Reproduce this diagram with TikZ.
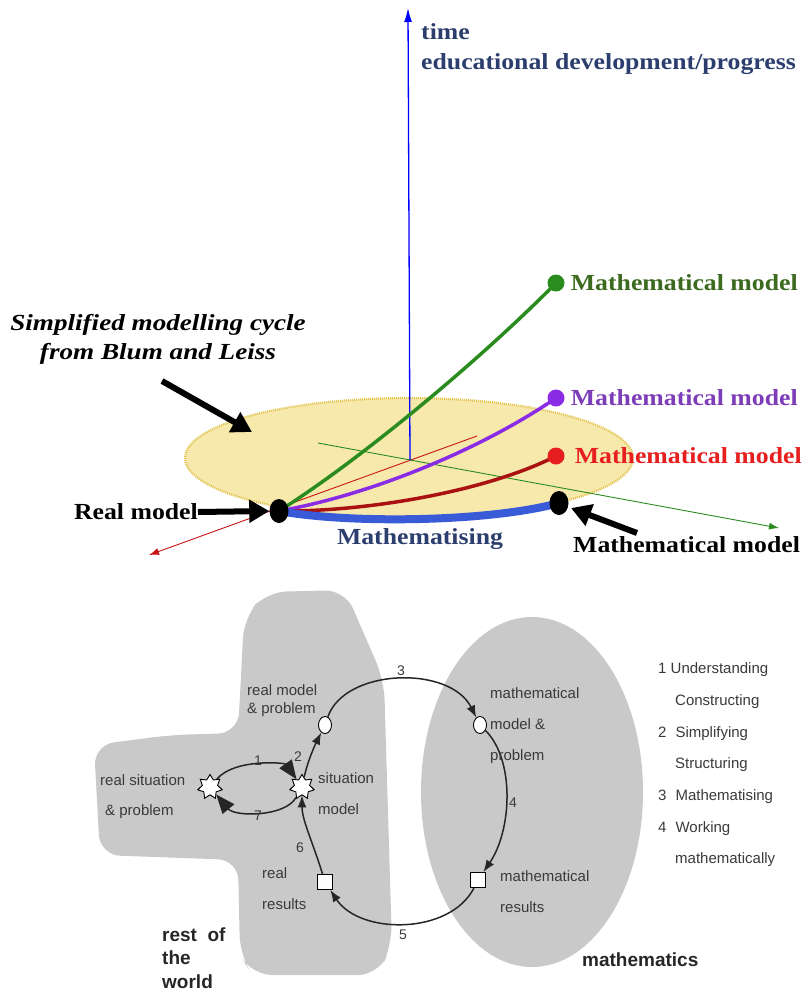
\documentclass[tikz,border=0pt]{standalone}
\usepackage{fontspec}
\setmainfont{Liberation Serif}
\setsansfont{Liberation Sans}
\newfontfamily\wideserif[FakeStretch=1.12]{Liberation Serif}
\newfontfamily\wideital[FakeStretch=1.18]{Liberation Serif}
\usetikzlibrary{arrows.meta,shapes.geometric,positioning}

\definecolor{discfill}{HTML}{F7E8AC}
\definecolor{discrim}{HTML}{E2C44E}
\definecolor{navy}{HTML}{2C3E6E}
\definecolor{mgreen}{HTML}{2A8C1E}
\definecolor{tgreen}{HTML}{3C6A1E}
\definecolor{mpurple}{HTML}{8A2BE6}
\definecolor{tpurple}{HTML}{7D3CB8}
\definecolor{mred}{HTML}{C81414}
\definecolor{tred}{HTML}{E61E1E}
\definecolor{arcblue}{HTML}{3A5BD8}
\definecolor{blobgray}{HTML}{C9C9C9}
\definecolor{inkgray}{HTML}{3A3A3A}

\tikzset{
  toplab/.style={font=\wideserif\bfseries\fontsize{23}{29}\selectfont, inner sep=0pt},
  dot/.style={circle, fill=#1, inner sep=0pt, minimum size=17pt},
  blackdot/.style={ellipse, fill=black, inner sep=0pt, minimum width=19pt, minimum height=24pt},
  thinax/.style={line width=0.9pt, -{Latex[length=10pt,width=7pt]}},
  fatarrow/.style={line width=6pt, -{Triangle[length=20pt,width=22pt]}},
  lab/.style={font=\sffamily\fontsize{15}{31}\selectfont, text=inkgray, inner sep=0pt, anchor=west, align=left},
  num/.style={font=\sffamily\fontsize{14}{16}\selectfont, text=inkgray, inner sep=0pt},
  starnode/.style={star, star points=7, star point ratio=1.6, draw=black, line width=0.9pt, fill=white, minimum size=25pt, inner sep=0pt},
  ringnode/.style={ellipse, draw=black, line width=0.9pt, fill=white, minimum width=13pt, minimum height=17pt, inner sep=0pt},
  boxnode/.style={rectangle, draw=black, line width=0.9pt, fill=white, minimum size=15pt, inner sep=0pt},
  cyc/.style={draw=black!85, line width=1.5pt, -{Latex[length=12pt,width=9pt]}},
  bigcyc/.style={draw=black!85, line width=1.5pt, -{Triangle[length=19pt,width=15pt]}}
}

\begin{document}
\begin{tikzpicture}[x=1pt,y=-1pt]
\useasboundingbox (0,0) rectangle (804,994);

% --- 3-D sketch ---
\node[ellipse, draw=discrim, fill=discfill, dash pattern=on 1pt off 1pt, line width=2.2pt, minimum width=448pt, minimum height=120pt, inner sep=0pt] (disc) at (409,458) {};

\coordinate (O) at (410,460);
\coordinate (xback) at (477,436);
\coordinate (xend) at (149,555);
\coordinate (yback) at (318,443);
\coordinate (yend) at (779,528);
\coordinate (zend) at (408,8);
\draw[thinax, mred] (xback) -- (xend);
\draw[thinax, mgreen] (yback) -- (yend);
\draw[line width=1.3pt, blue, -{Latex[length=14pt,width=8pt]}] (O) -- (zend);

\node[toplab, text=navy, anchor=west] (time) at (421,32) {time};
\node[toplab, text=navy, anchor=west] (prog) at (421,64) {educational development/progress};

\coordinate (P) at (279,511);
\coordinate (Q) at (559,503);
\coordinate (G) at (556,283);
\coordinate (V) at (556,398);
\coordinate (R) at (556,456);

\draw[mgreen, line width=3.5pt] (P) .. controls (360,460) and (480,360) .. (G);
\draw[mpurple, line width=3.5pt] (P) .. controls (370,495) and (480,450) .. (V);
\draw[mred!85!black, line width=3.5pt] (P) .. controls (370,512) and (490,490) .. (R);
\draw[arcblue, line width=8pt, line cap=round] (P) .. controls (350,524) and (490,522) .. (Q);

\node[blackdot] (rm) at (P) {};
\node[blackdot] (mm) at (Q) {};
\node[dot=mgreen] (gdot) at (G) {};
\node[dot=mpurple] (pdot) at (V) {};
\node[dot=tred] (rdot) at (R) {};

\node[toplab, text=tgreen, anchor=west, right=6pt of gdot] (glab) {Mathematical model};
\node[toplab, text=tpurple, anchor=west, right=6pt of pdot] (plab) {Mathematical model};
\node[toplab, text=tred, anchor=west, right=10pt of rdot] (rlab) {Mathematical model};

\node[toplab, align=center, font=\wideital\bfseries\itshape\fontsize{23}{29}\selectfont] (cyclab) at (158,339) {Simplified modelling cycle\\from Blum and Leiss};
\node[toplab, anchor=east] (rmlab) at (198,512) {Real model};
\node[toplab, text=navy] (mathsing) at (420,539) {Mathematising};
\node[toplab, anchor=west] (mmlab) at (573,545) {Mathematical model};

\coordinate (a1) at (162,381);
\coordinate (a1t) at (252,432);
\coordinate (a3) at (637,533);
\coordinate (a3t) at (571,508);
\draw[fatarrow] (a1) -- (a1t);
\draw[fatarrow] (rmlab.east) -- (rm.west);
\draw[fatarrow] (a3) -- (a3t);

% --- Blum and Leiss cycle ---
\fill[blobgray, rounded corners=20pt] (170,735) -- (238,733) -- (244,618) -- (266,592)
  -- (345,590) -- (384,680) -- (392,945) -- (378,975) -- (252,975) -- (240,955)
  -- (238,860) -- (100,855) -- (94,745) -- cycle;
\fill[blobgray] (532,792) ellipse [x radius=111pt, y radius=175pt];

\node[starnode] (rs) at (210,787) {};
\node[starnode] (sm) at (302,787) {};
\node[ringnode] (rmc) at (325,725) {};
\node[ringnode] (mmc) at (480,725) {};
\node[boxnode] (mres) at (478,880) {};
\node[boxnode] (rres) at (325,882) {};

\draw[bigcyc] (rs) .. controls (235,758) and (285,763) .. (sm);
\draw[bigcyc] (sm) .. controls (285,817) and (235,817) .. (rs);
\draw[cyc] (sm) .. controls (308,760) and (315,745) .. (rmc);
\draw[cyc] (rmc) .. controls (345,668) and (450,665) .. (mmc);
\draw[cyc] (mmc) .. controls (515,760) and (512,830) .. (mres);
\draw[cyc] (mres) .. controls (450,935) and (360,935) .. (rres);
\draw[cyc] (rres) .. controls (312,840) and (302,820) .. (sm);

\node[num] (n1) at (258,761) {1};
\node[num] (n2) at (298,757) {2};
\node[num] (n3) at (401,671) {3};
\node[num] (n4) at (513,803) {4};
\node[num] (n5) at (403,935) {5};
\node[num] (n6) at (300,848) {6};
\node[num] (n7) at (258,816) {7};

\node[lab, font=\sffamily\fontsize{15}{18}\selectfont] (rmpl) at (247,701) {real model\\\& problem};
\node[lab] (rsit) at (100,780) {real situation};
\node[lab] (rsitp) at (105,812) {\& problem};
\node[lab] (smod) at (318,794) {situation\\model};
\node[lab] (rrl) at (262,889) {real\\results};
\node[lab] (mmpl) at (490,726) {mathematical\\model \&\\problem};
\node[lab] (mrl) at (500,892) {mathematical\\results};
\node[lab, font=\sffamily\fontsize{15}{31.7}\selectfont] (legend) at (658,765) {1 Understanding\\\hspace*{17pt}Constructing\\2\hspace*{9pt}Simplifying\\\hspace*{17pt}Structuring\\3\hspace*{9pt}Mathematising\\4\hspace*{9pt}Working\\\hspace*{17pt}mathematically};
\node[lab, font=\sffamily\bfseries\fontsize{19}{23.5}\selectfont, text=black!85] (world) at (162,958) {rest\ \ of\\the\\world};
\node[lab, font=\sffamily\bfseries\fontsize{19}{23.5}\selectfont, text=black!85] (maths) at (582,960) {mathematics};
\end{tikzpicture}
\end{document}
